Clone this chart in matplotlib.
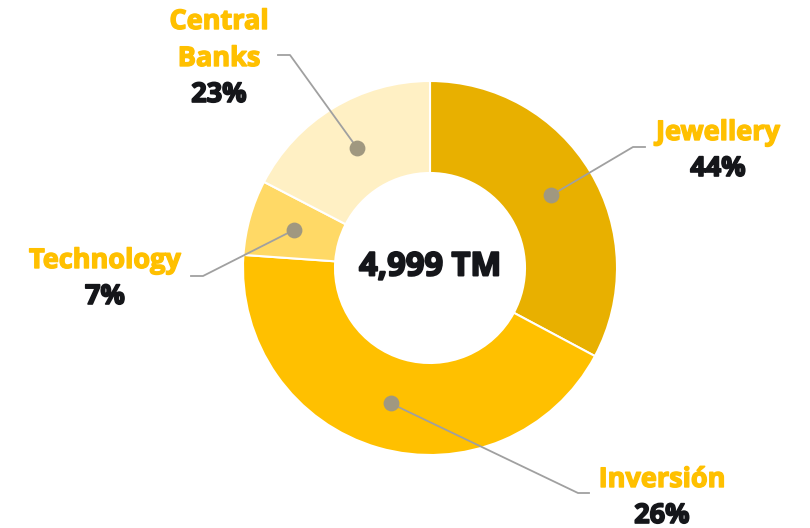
import matplotlib.pyplot as plt
import matplotlib.patheffects as pe
import numpy as np

# gold demand by sector (arc shares as drawn, tonnes)
sectors = ['Jewellery', 'Inversión', 'Technology', 'Central\nBanks']
tonnes = [1640, 2165, 325, 869]
pct_labels = ['44%', '26%', '7%', '23%']
colors = ['#E8B000', '#FFC000', '#FFD966', '#FFF0C4']
total_label = '4,999 TM'

W, H = 810, 528
fig = plt.figure(figsize=(W / 100, H / 100), dpi=100)
ax = fig.add_axes([0, 0, 1, 1])

cx, cy = 430, H - 268
R, r_in = 187, 95
wedges, _ = ax.pie(tonnes, colors=colors, startangle=90, counterclock=False,
                   radius=R, center=(cx, cy), frame=True,
                   wedgeprops=dict(width=R - r_in, edgecolor='white', linewidth=1.5))
ax.set_xlim(0, W)
ax.set_ylim(0, H)
ax.set_aspect('equal')
ax.axis('off')

ink = '#15161a'
gold = '#FFC000'

def thick(c, w=0.9):
    return [pe.withStroke(linewidth=w, foreground=c)]

ax.text(cx, cy + 1, total_label, ha='center', va='center', fontsize=23.5,
        fontweight='bold', family='Open Sans', color=ink, path_effects=thick(ink, 1.4))

# (elbow x, elbow y, horizontal end x, label x, first line y) in pixels from top
layout = [
    (633, 147, 645, 718, 133),
    (578, 493, 589, 662, 480),
    (203, 276, 191, 105, 261),
    (290, 55, 278, 219, 22),
]

for w, name, pct, (ex, ey, hx, lx, ly) in zip(wedges, sectors, pct_labels, layout):
    ang = np.deg2rad((w.theta1 + w.theta2) / 2)
    rm = (R + r_in) / 2
    dx, dy = cx + rm * np.cos(ang), cy + rm * np.sin(ang)
    ax.plot([dx, ex, hx], [dy, H - ey, H - ey], color='#A0A0A0', lw=1.3, zorder=3)
    ax.scatter([dx], [dy], s=130, color='#A09880', zorder=4, linewidths=0)
    lines = name.split('\n')
    for i, ln in enumerate(lines):
        ax.text(lx, H - ly - i * 37, ln, ha='center', va='center', fontsize=19.5,
                fontweight='bold', family='Open Sans', color=gold,
                path_effects=thick(gold, 1.0))
    ax.text(lx, H - ly - len(lines) * 37 + 1, pct, ha='center', va='center',
            fontsize=19.5, fontweight='bold', family='Open Sans', color=ink,
            path_effects=thick(ink, 1.2))

fig.savefig('out.png', dpi=100)
